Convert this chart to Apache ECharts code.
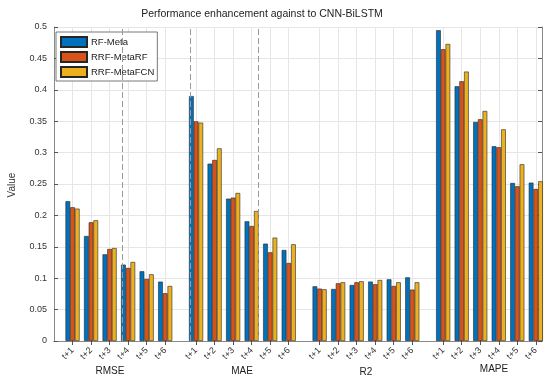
<!DOCTYPE html>
<html>
<head>
<meta charset="utf-8">
<script src="https://cdn.jsdelivr.net/npm/echarts@6/dist/echarts.min.js"></script>
<style>html,body{margin:0;padding:0;background:#fff;}#c{width:550px;height:381px;}</style>
</head>
<body>
<div id="c"></div>
<script>
// ---- data ----
const metrics = ['RMSE', 'MAE', 'R2', 'MAPE'];
const horizons = ['t+1', 't+2', 't+3', 't+4', 't+5', 't+6'];
const seriesNames = ['RF-Meta', 'RRF-MetaRF', 'RRF-MetaFCN'];
// order: RMSE t+1..t+6, MAE t+1..t+6, R2 t+1..t+6, MAPE t+1..t+6
const rfMeta = [0.2225, 0.1672, 0.138, 0.1216, 0.111, 0.0945,
                0.390, 0.2824, 0.2267, 0.1906, 0.155, 0.1449,
                0.0871, 0.0828, 0.0892, 0.0946, 0.0982, 0.1014,
                0.4948, 0.4056, 0.3488, 0.310, 0.2516, 0.2522];
const rrfMetaRF = [0.2129, 0.189, 0.1465, 0.1163, 0.0988, 0.076,
                   0.3498, 0.2882, 0.2283, 0.1831, 0.1412, 0.1242,
                   0.0834, 0.0919, 0.0935, 0.0903, 0.0876, 0.0818,
                   0.4645, 0.4135, 0.353, 0.3084, 0.2463, 0.242];
const rrfMetaFCN = [0.2108, 0.1922, 0.148, 0.1258, 0.1062, 0.0876,
                    0.3477, 0.3068, 0.2357, 0.207, 0.1646, 0.154,
                    0.0823, 0.0935, 0.0951, 0.0971, 0.0935, 0.0935,
                    0.473, 0.429, 0.3662, 0.337, 0.2814, 0.2543];
const yTicks = [0, 0.05, 0.1, 0.15, 0.2, 0.25, 0.3, 0.35, 0.4, 0.45, 0.5];
const separators = [11, 22, 33];

// ---- layout of category slots (x positions in axis slots) ----
const SLOTS = 80, FIRST = 3, STEP = 3, GROUP_STEP = 20;
const cats = [];
for (let k = 0; k < SLOTS; k++) cats.push(String(k));
const slotLabel = {};
metrics.forEach((m, g) => horizons.forEach((h, i) => {
  slotLabel[FIRST + GROUP_STEP * g + STEP * i] = h;
}));
const isPos = (idx) => slotLabel[idx] !== undefined;
function toSlots(values) {
  const arr = new Array(SLOTS).fill('-');
  metrics.forEach((m, g) => horizons.forEach((h, i) => {
    arr[FIRST + GROUP_STEP * g + STEP * i] = values[g * horizons.length + i];
  }));
  return arr;
}

const colors = ['#0072BD', '#D95319', '#EDB120'];
const FONT = '"Liberation Sans", Arial, sans-serif';
const chart = echarts.init(document.getElementById('c'), null, {renderer: 'canvas'});

const barSeries = [rfMeta, rrfMetaRF, rrfMetaFCN].map((vals, s) => ({
  name: seriesNames[s],
  type: 'bar',
  data: toSlots(vals),
  barWidth: 4.7,
  barGap: '0%',
  z: 3,
  itemStyle: {color: colors[s], borderColor: '#262626', borderWidth: 0.6},
  emphasis: {disabled: true}
}));

chart.setOption({
  animation: false,
  textStyle: {fontFamily: FONT},
  grid: {left: 54, right: 8, top: 27, bottom: 40, containLabel: false},
  legend: {
    data: seriesNames,
    orient: 'vertical',
    left: 56, top: 32,
    itemWidth: 26, itemHeight: 10, itemGap: 3,
    padding: [4, 3, 3, 4],
    backgroundColor: '#fff',
    borderColor: '#555', borderWidth: 0.8,
    icon: 'rect',
    textStyle: {fontSize: 9.5, color: '#222', fontFamily: FONT, padding: [0, 0, 0, -1]}
  },
  xAxis: [{
    type: 'category', data: cats, boundaryGap: false, position: 'bottom',
    axisLine: {lineStyle: {color: '#8a8a8a', width: 1}},
    axisTick: {show: true, inside: true, length: 4, interval: (idx) => isPos(idx), lineStyle: {color: '#555'}},
    axisLabel: {interval: (idx) => isPos(idx), formatter: (v, idx) => slotLabel[idx] || '',
      rotate: 45, fontSize: 9, color: '#333', margin: 8, fontFamily: FONT},
    splitLine: {show: true, interval: (idx) => isPos(idx), lineStyle: {color: '#e6e6e6', width: 1}}
  }, {
    type: 'category', data: cats, boundaryGap: false, position: 'top',
    axisLine: {show: true, lineStyle: {color: '#8a8a8a', width: 1}},
    axisTick: {show: true, inside: true, length: 4, interval: (idx) => isPos(idx), lineStyle: {color: '#555'}},
    axisLabel: {show: false}, splitLine: {show: false}
  }],
  yAxis: [{
    type: 'value', min: yTicks[0], max: yTicks[yTicks.length - 1], interval: 0.05,
    axisLine: {show: true, lineStyle: {color: '#8a8a8a', width: 1}},
    axisTick: {show: true, inside: true, length: 4, lineStyle: {color: '#555'}},
    axisLabel: {fontSize: 9, color: '#333', margin: 7, fontFamily: FONT,
      formatter: (v) => String(parseFloat(v.toFixed(2)))},
    splitLine: {show: true, lineStyle: {color: '#e6e6e6', width: 1}}
  }, {
    type: 'value', position: 'right', min: yTicks[0], max: yTicks[yTicks.length - 1], interval: 0.05,
    axisLine: {show: true, lineStyle: {color: '#8a8a8a', width: 1}},
    axisTick: {show: true, inside: true, length: 4, lineStyle: {color: '#555'}},
    axisLabel: {show: false}, splitLine: {show: false}
  }],
  series: [{
    type: 'line', data: new Array(SLOTS).fill('-'), z: 1, silent: true,
    markLine: {
      silent: true, symbol: 'none', animation: false,
      label: {show: false},
      lineStyle: {color: '#9a9a9a', type: [6, 3], width: 1},
      data: separators.map(s => ({xAxis: String(s)}))
    }
  }].concat(barSeries),
  graphic: [
    {type: 'text', x: 262, y: 14, style: {text: 'Performance enhancement against to CNN-BiLSTM',
      font: '10.5px ' + FONT, fill: '#222', align: 'center', verticalAlign: 'middle'}},
    {type: 'text', x: 12, y: 185, rotation: Math.PI / 2, style: {text: 'Value',
      font: '10px ' + FONT, fill: '#333', align: 'center', verticalAlign: 'middle'}},
    {type: 'text', x: 110, y: 371, style: {text: metrics[0], font: '10px ' + FONT, fill: '#222', align: 'center', verticalAlign: 'middle'}},
    {type: 'text', x: 242, y: 371, style: {text: metrics[1], font: '10px ' + FONT, fill: '#222', align: 'center', verticalAlign: 'middle'}},
    {type: 'text', x: 366, y: 372, style: {text: metrics[2], font: '10px ' + FONT, fill: '#222', align: 'center', verticalAlign: 'middle'}},
    {type: 'text', x: 494, y: 369, style: {text: metrics[3], font: '10px ' + FONT, fill: '#222', align: 'center', verticalAlign: 'middle'}}
  ]
});
</script>
</body>
</html>
